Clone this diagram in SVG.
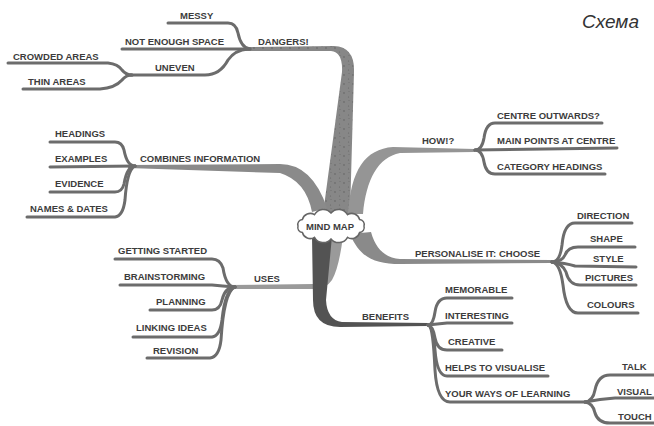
<svg xmlns="http://www.w3.org/2000/svg" width="654" height="426" viewBox="0 0 654 426">
  <style>
    .lbl { font-family: "Liberation Sans", Arial, sans-serif; font-weight: bold; font-size: 9.5px; fill: #3c3c3c; }
    .twig { fill: none; stroke: #6c6c6c; stroke-width: 3; stroke-linecap: round; stroke-linejoin: round; }
    .limb { stroke: none; }
    .title { font-family: "Liberation Sans", Arial, sans-serif; font-style: italic; font-size: 19px; fill: #333; }
  </style>
  <defs>
    <!-- speckled grey texture for the thick branches -->
    <pattern id="speckle" width="9" height="9" patternUnits="userSpaceOnUse">
      <rect width="9" height="9" fill="#878787"/>
      <circle cx="2" cy="3" r="0.7" fill="#5a5a5a"/>
      <circle cx="6.5" cy="7" r="0.6" fill="#666"/>
      <circle cx="7" cy="1.5" r="0.5" fill="#6a6a6a"/>
    </pattern>
  </defs>

  <rect width="654" height="426" fill="#fff"/>

  <text class="title" x="582" y="28">Схема</text>

  <!-- connectors: thick limbs from the centre and thin twigs to the leaves -->
  <g id="connectors">
    <!-- DANGERS! limb -->
    <path class="limb" fill="url(#speckle)" d="M350 214 L354 72 Q355 47 334 46 L245 47 L245 51 L331 51 Q343 52 342 72 L323 214 Z"/>
    <path class="twig" d="M168 23 L228 23 Q236 23 238 33 Q241 48 250 49"/>
    <path class="twig" d="M122 49 L250 49"/>
    <path class="twig" d="M248 49 Q235 50 228 60 Q220 75 205 75 L130 75"/>
    <path class="twig" d="M8 63 L108 63 Q118 64 122 70 Q126 75 132 75"/>
    <path class="twig" d="M23 89 L100 89 Q115 88 122 80 Q126 75 132 75"/>

    <!-- COMBINES INFORMATION limb -->
    <path class="limb" fill="#8a8a8a" d="M128 165 L280 164 Q312 164 327 208 L312 212 Q306 181 280 173 L128 168 Z"/>
    <path class="twig" d="M50 142 L115 142 Q122 142 124 150 Q127 166 135 166"/>
    <path class="twig" d="M50 167 L135 166"/>
    <path class="twig" d="M50 192 L115 192 Q122 192 124 184 Q127 166 135 166"/>
    <path class="twig" d="M27 217 L115 217 Q123 216 125 200 Q127 170 135 166"/>

    <!-- USES limb -->
    <path class="limb" fill="#9a9a9a" d="M228 285 L314 284 Q322 283 323 270 L322 236 L343 236 Q339 268 332 280 Q326 289 314 289 L228 289 Z"/>
    <path class="twig" d="M115 259 L212 259 Q220 259 223 268 Q226 287 235 287"/>
    <path class="twig" d="M120 285 L212 285 Q222 286 235 287"/>
    <path class="twig" d="M150 310 L212 310 Q220 310 222 300 Q225 287 235 287"/>
    <path class="twig" d="M133 337 L212 337 Q220 336 222 320 Q225 290 235 287"/>
    <path class="twig" d="M147 358 L210 358 Q219 357 221 340 Q224 292 235 287"/>

    <!-- HOW!? limb -->
    <path class="limb" fill="#959595" d="M348 214 C351 170 365 149 393 147 L475 149 L475 152 L400 153 C378 157 366 180 363 214 Z"/>
    <path class="twig" d="M475 150 Q482 150 484 138 Q486 123 495 123 L602 123"/>
    <path class="twig" d="M475 150 L617 148"/>
    <path class="twig" d="M475 150 Q482 150 484 162 Q486 174 495 174 L605 174"/>

    <!-- PERSONALISE IT: CHOOSE limb -->
    <path class="limb" fill="#8a8a8a" d="M350 234 C360 258 375 264 400 264 L552 263 L552 260 L400 259 C386 258 376 250 371 232 Z"/>
    <path class="twig" d="M552 262 Q560 262 562 245 Q564 223 575 223 L632 223"/>
    <path class="twig" d="M552 262 Q562 262 565 255 Q568 247 578 247 L635 247"/>
    <path class="twig" d="M552 262 Q565 263 575 266 L636 267"/>
    <path class="twig" d="M552 262 Q562 263 566 272 Q569 285 580 285 L636 285"/>
    <path class="twig" d="M552 262 Q560 263 563 285 Q566 313 578 313 L638 313"/>

    <!-- BENEFITS limb -->
    <path class="limb" fill="#535353" d="M312 236 L313 300 Q313 327 340 327 L428 326 L428 323 L342 322 Q327 320 326 300 L332 236 Z"/>
    <path class="twig" d="M428 325 Q433 325 435 312 Q437 298 447 298 L512 298"/>
    <path class="twig" d="M428 325 Q437 324 447 323 L512 323"/>
    <path class="twig" d="M428 325 Q433 326 435 338 Q437 350 447 350 L502 350"/>
    <path class="twig" d="M428 325 Q433 326 435 350 Q437 376 447 376 L548 376"/>
    <path class="twig" d="M428 325 Q433 326 435 370 Q437 402 450 402 L585 402"/>
    <path class="twig" d="M585 402 Q593 401 595 390 Q598 375 610 375 L654 375"/>
    <path class="twig" d="M585 402 Q600 399 615 398 L654 398"/>
    <path class="twig" d="M585 402 Q593 403 595 413 Q598 423 610 423 L654 423"/>
  </g>

  <!-- central node: scalloped cloud -->
  <g id="mind-map">
    <path fill="#fff" stroke="#666" stroke-width="1.5" d="M298 226 A5 5 0 0 1 302.4 219.5 A8 8 0 0 1 314.5 214.7 A10 10 0 0 1 331 213 A10 10 0 0 1 347.5 214.7 A8 8 0 0 1 359.6 219.5 A5 5 0 0 1 364 226 A5 5 0 0 1 359.6 232.5 A8 8 0 0 1 347.5 237.3 A10 10 0 0 1 331 239 A10 10 0 0 1 314.5 237.3 A8 8 0 0 1 302.4 232.5 A5 5 0 0 1 298 226 Z"/>
    <text class="lbl" x="330" y="229.5" text-anchor="middle">MIND MAP</text>
  </g>

  <g id="dangers">
    <text class="lbl" x="258" y="45">DANGERS!</text>
    <text class="lbl" x="180" y="19">MESSY</text>
    <text class="lbl" x="125" y="45">NOT ENOUGH SPACE</text>
    <text class="lbl" x="155" y="71">UNEVEN</text>
    <text class="lbl" x="13" y="60">CROWDED AREAS</text>
    <text class="lbl" x="28" y="85">THIN AREAS</text>
  </g>

  <g id="combines">
    <text class="lbl" x="140" y="162">COMBINES INFORMATION</text>
    <text class="lbl" x="55" y="137">HEADINGS</text>
    <text class="lbl" x="55" y="162">EXAMPLES</text>
    <text class="lbl" x="55" y="187">EVIDENCE</text>
    <text class="lbl" x="30" y="212">NAMES &amp; DATES</text>
  </g>

  <g id="uses">
    <text class="lbl" x="254" y="282">USES</text>
    <text class="lbl" x="118" y="254">GETTING STARTED</text>
    <text class="lbl" x="124" y="280">BRAINSTORMING</text>
    <text class="lbl" x="156" y="305">PLANNING</text>
    <text class="lbl" x="136" y="331">LINKING IDEAS</text>
    <text class="lbl" x="153" y="354">REVISION</text>
  </g>

  <g id="how">
    <text class="lbl" x="422" y="144">HOW!?</text>
    <text class="lbl" x="497" y="119">CENTRE OUTWARDS?</text>
    <text class="lbl" x="497" y="144">MAIN POINTS AT CENTRE</text>
    <text class="lbl" x="497" y="170">CATEGORY HEADINGS</text>
  </g>

  <g id="personalise">
    <text class="lbl" x="415" y="257">PERSONALISE IT: CHOOSE</text>
    <text class="lbl" x="577" y="219">DIRECTION</text>
    <text class="lbl" x="590" y="242">SHAPE</text>
    <text class="lbl" x="593" y="262">STYLE</text>
    <text class="lbl" x="585" y="281">PICTURES</text>
    <text class="lbl" x="587" y="308">COLOURS</text>
  </g>

  <g id="benefits">
    <text class="lbl" x="362" y="320">BENEFITS</text>
    <text class="lbl" x="445" y="293">MEMORABLE</text>
    <text class="lbl" x="445" y="319">INTERESTING</text>
    <text class="lbl" x="448" y="345">CREATIVE</text>
    <text class="lbl" x="445" y="371">HELPS TO VISUALISE</text>
    <text class="lbl" x="445" y="397">YOUR WAYS OF LEARNING</text>
    <text class="lbl" x="622" y="370">TALK</text>
    <text class="lbl" x="617" y="395">VISUAL</text>
    <text class="lbl" x="618" y="420">TOUCH</text>
  </g>
</svg>
